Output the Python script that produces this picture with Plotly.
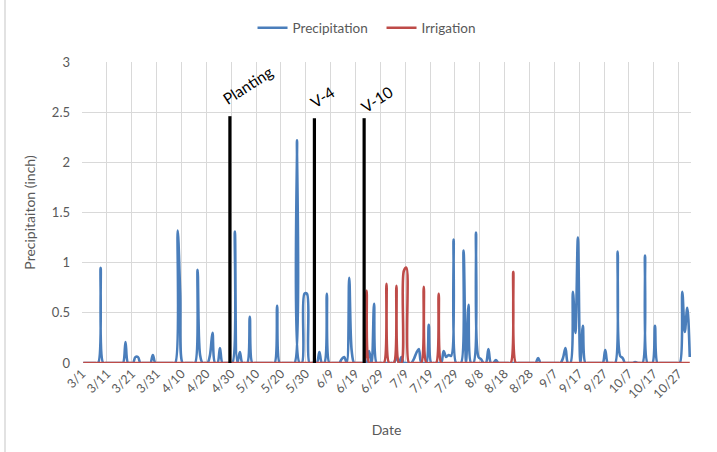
import pandas as pd
import plotly.graph_objects as go

year = 2016
season_start = "3/1"
season_end = "10/31"

precip_dates = ["3/8", "3/18", "3/22", "3/23", "3/29", "4/8", "4/9", "4/16", "4/17",
                "4/21", "4/22", "4/25", "5/1", "5/3", "5/7", "5/18", "5/26", "5/29",
                "5/30", "6/4", "6/7", "6/13", "6/14", "6/16", "6/17", "6/24", "6/26",
                "7/5", "7/7", "7/12", "7/13", "7/14", "7/18", "7/24", "7/25", "7/26",
                "7/27", "7/28", "8/1", "8/3", "8/6", "8/7", "8/8", "8/11", "8/14",
                "8/31", "9/10", "9/11", "9/14", "9/15", "9/16", "9/18", "9/27", "10/2",
                "10/3", "10/4", "10/9", "10/13", "10/17", "10/28", "10/29", "10/30", "10/31"]
precip_values = [0.95, 0.21, 0.06, 0.06, 0.08, 1.32, 0.70, 0.93, 0.08,
                 0.08, 0.30, 0.15, 1.31, 0.11, 0.46, 0.57, 2.22, 0.69,
                 0.69, 0.11, 0.69, 0.04, 0.06, 0.85, 0.12, 0.12, 0.59,
                 0.06, 0.06, 0.04, 0.10, 0.14, 0.38, 0.12, 0.06, 0.08,
                 0.07, 1.23, 1.12, 0.58, 1.30, 0.06, 0.04, 0.14, 0.03,
                 0.05, 0.05, 0.15, 0.71, 0.30, 1.25, 0.37, 0.13, 1.11,
                 0.07, 0.05, 0.01, 1.07, 0.37, 0.71, 0.31, 0.55, 0.06]

irrig_dates = ["6/23", "7/1", "7/5", "7/8", "7/9", "7/16", "7/22", "8/21"]
irrig_values = [0.72, 0.79, 0.77, 0.92, 0.95, 0.76, 0.69, 0.91]

stage_labels = ["Planting", "V-4", "V-10"]
stage_dates = ["4/29", "6/2", "6/22"]
stage_heights = [2.46, 2.44, 2.44]

tick_labels = ["3/1", "3/11", "3/21", "3/31", "4/10", "4/20", "4/30", "5/10", "5/20",
               "5/30", "6/9", "6/19", "6/29", "7/9", "7/19", "7/29", "8/8", "8/18",
               "8/28", "9/7", "9/17", "9/27", "10/7", "10/17", "10/27"]

start = pd.Timestamp(f"{year}/{season_start}")
end = pd.Timestamp(f"{year}/{season_end}")
n_days = (end - start).days + 1


def day_index(md):
    return (pd.Timestamp(f"{year}/{md}") - start).days


days = list(range(n_days))
precip = [0.0] * n_days
for d, v in zip(precip_dates, precip_values):
    precip[day_index(d)] = v
irrig = [0.0] * n_days
for d, v in zip(irrig_dates, irrig_values):
    irrig[day_index(d)] = v

BLUE = "#4a7ebb"
RED = "#be4b48"
GRAY = "#595959"
FONT = "Lato, Carlito, 'Open Sans', sans-serif"

fig = go.Figure()
fig.add_trace(go.Scatter(x=days, y=precip, mode="lines", name="Precipitation",
                         line=dict(color=BLUE, width=2.6, shape="spline", smoothing=1.0)))
fig.add_trace(go.Scatter(x=days, y=irrig, mode="lines", name="Irrigation",
                         line=dict(color=RED, width=2.6, shape="spline", smoothing=1.0)))

label_shifts = {"Planting": (18, 31), "V-4": (8, 21), "V-10": (13, 19)}
for lab, d, h in zip(stage_labels, stage_dates, stage_heights):
    i = day_index(d)
    fig.add_trace(go.Scatter(x=[i, i], y=[0, h], mode="lines", showlegend=False,
                             line=dict(color="black", width=3.2)))
    xs, ys = label_shifts[lab]
    fig.add_annotation(x=i, y=h, text=lab, showarrow=False, textangle=-33,
                       xanchor="center", yanchor="middle", xshift=xs, yshift=ys,
                       font=dict(family=FONT, size=15.5, color="black"))

tickvals = [day_index(t) - 0.5 for t in tick_labels]

fig.update_layout(
    width=717, height=452,
    margin=dict(l=82, r=26, t=62, b=89),
    paper_bgcolor="white", plot_bgcolor="white",
    font=dict(family=FONT, size=13, color=GRAY),
    showlegend=True,
    legend=dict(orientation="h", x=0.28, xanchor="left", y=1.113, yanchor="middle",
                font=dict(family=FONT, size=13.5, color=GRAY), entrywidth=84,
                bgcolor="rgba(0,0,0,0)"),
    xaxis=dict(range=[-0.5, n_days - 0.5], tickmode="array", tickvals=tickvals,
               ticktext=tick_labels, tickangle=-45, showgrid=True, gridcolor="#d9d9d9",
               gridwidth=1, zeroline=False, showline=False, ticks="",
               tickfont=dict(family=FONT, size=12.5, color=GRAY),
               title=dict(text="Date", standoff=24,
                          font=dict(family=FONT, size=14, color=GRAY))),
    yaxis=dict(range=[0, 3], dtick=0.5, tick0=0, showgrid=True, gridcolor="#d9d9d9",
               gridwidth=1, zeroline=False, showline=False, ticks="",
               ticklabelstandoff=11,
               tickfont=dict(family=FONT, size=13, color=GRAY),
               title=dict(text="Precipitaiton (inch)", standoff=12,
                          font=dict(family=FONT, size=14, color=GRAY))),
)

fig.add_shape(type="line", xref="paper", yref="paper",
              x0=(5 - 82) / 609, x1=(5 - 82) / 609, y0=-89 / 301, y1=(452 - 62 + 10) / 301,
              line=dict(color="#d9d9d9", width=1.5))

fig.write_html("out.html")
